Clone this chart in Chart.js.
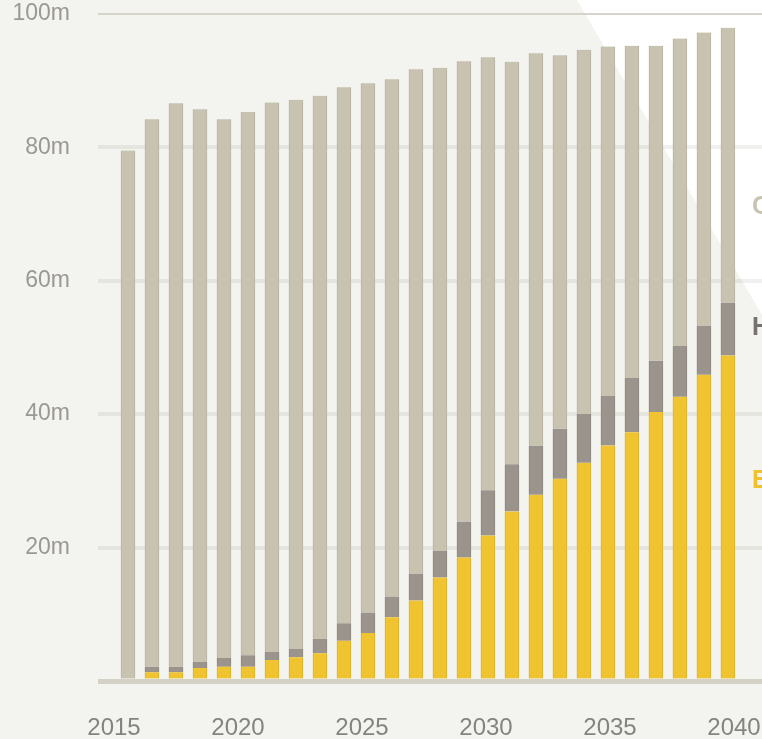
<!DOCTYPE html>
<html>
<head>
<meta charset="utf-8">
<script src="https://cdn.jsdelivr.net/npm/chart.js@4/dist/chart.umd.min.js"></script>
<style>
  html, body { margin: 0; padding: 0; background: #f3f3ef; }
  canvas { display: block; }
</style>
</head>
<body>
<canvas id="sales-chart" width="762" height="739"></canvas>
<script>
// annual vehicle sales, millions
const YEARS = [2015, 2016, 2017, 2018, 2019, 2020, 2021, 2022, 2023, 2024, 2025, 2026, 2027,
               2028, 2029, 2030, 2031, 2032, 2033, 2034, 2035, 2036, 2037, 2038, 2039, 2040];
const ELECTRIC = [0, 1.3, 1.3, 1.95, 2.15, 2.15, 3.15, 3.55, 4.15, 6.05, 7.2, 9.55, 12.05,
                  15.5, 18.5, 21.8, 25.4, 27.9, 30.3, 32.7, 35.3, 37.3, 40.3, 42.6, 45.9, 48.8];
const HYBRID = [0, 0.85, 0.85, 0.95, 1.3, 1.7, 1.2, 1.25, 2.2, 2.6, 3.05, 3.1, 4.0,
                4.0, 5.4, 6.8, 7.1, 7.4, 7.5, 7.3, 7.4, 8.1, 7.7, 7.6, 7.3, 7.9];
const CONVENTIONAL = [79.5, 82.05, 84.45, 82.8, 80.75, 81.45, 82.35, 82.3, 81.35, 80.35, 79.35, 77.55, 75.65,
                      72.4, 69.0, 64.9, 60.3, 58.8, 56.0, 54.6, 52.4, 49.8, 47.2, 46.1, 44.0, 41.2];

const SERIES_NAMES = ['Electric', 'Hybrid', 'Conventional'];
const LABEL_YEARS = [2015, 2020, 2025, 2030, 2035, 2040];
const Y_TICKS = [0, 20, 40, 60, 80, 100];

const COLORS = ['#f0c430', '#9b948d', '#c8c2b0'];
const EDGES = ['#dcb22a', '#8c867f', '#b9b3a1'];
const NAME_COLORS = ['#f0c22e', '#77726d', '#c9c3b1'];
const NAME_AT = [29.9, 52.9, 71.0]; // in millions, along the y scale

const FONT = '"Liberation Sans", Arial, sans-serif';
const CLEAR = 'rgba(0, 0, 0, 0)';

function toPoints(values) {
    return values.map((v, i) => ({x: YEARS[i], y: v}));
}

function initDatasets() {
    return [ELECTRIC, HYBRID, CONVENTIONAL].map((values, i) => ({
        label: SERIES_NAMES[i],
        data: toPoints(values),
        backgroundColor: COLORS[i],
        borderColor: EDGES[i],
        borderWidth: {left: 1, right: 1, top: 0, bottom: 0},
        borderSkipped: false,
        barThickness: 14,
        xAxisID: 'x',
        yAxisID: 'y',
    }));
}

// page backdrop with the pale wedge in the upper right corner
const backdrop = {
    id: 'backdrop',
    beforeDraw(chart) {
        const ctx = chart.ctx;
        ctx.save();
        ctx.fillStyle = '#f3f3ef';
        ctx.fillRect(0, 0, chart.width, chart.height);
        ctx.fillStyle = '#ffffff';
        ctx.beginPath();
        ctx.moveTo(577, 0);
        ctx.lineTo(chart.width, 0);
        ctx.lineTo(chart.width, 315);
        ctx.closePath();
        ctx.fill();
        ctx.restore();
    }
};

// series names running off the right edge
const seriesNames = {
    id: 'seriesNames',
    afterDraw(chart) {
        const ctx = chart.ctx;
        const y = chart.scales.y;
        ctx.save();
        ctx.font = 'bold 25px "Liberation Sans Narrow", ' + FONT;
        ctx.textAlign = 'left';
        ctx.textBaseline = 'middle';
        SERIES_NAMES.forEach((name, i) => {
            ctx.fillStyle = NAME_COLORS[i];
            ctx.fillText(name, 752, y.getPixelForValue(NAME_AT[i]));
        });
        ctx.restore();
    }
};

function gridColor(ctx) {
    const v = ctx.tick ? ctx.tick.value : null;
    if (v === 0) return '#d4d2c6';
    if (v === 100) return '#d5d3ca';
    return 'rgba(110, 105, 90, 0.1)';
}

function gridWidth(ctx) {
    const v = ctx.tick ? ctx.tick.value : null;
    if (v === 0) return 5;
    if (v === 100) return 2;
    return 4;
}

new Chart(document.getElementById('sales-chart'), {
    type: 'bar',
    data: {datasets: initDatasets()},
    plugins: [backdrop, seriesNames],
    options: {
        responsive: false,
        animation: false,
        layout: {padding: {top: 3, right: 0, bottom: 0, left: 0}},
        plugins: {
            legend: {display: false},
            tooltip: {enabled: false},
        },
        scales: {
            x: {
                type: 'linear',
                stacked: true,
                display: false,
                offset: false,
                min: 2013.75,
                max: 2041.42,
            },
            years: {
                type: 'linear',
                position: 'bottom',
                offset: false,
                min: 2014.355,
                max: 2041.13,
                // invisible tick marks push the year labels down
                grid: {
                    display: true,
                    drawOnChartArea: false,
                    drawTicks: true,
                    tickLength: 33,
                    color: CLEAR,
                    tickColor: CLEAR,
                },
                border: {display: false},
                afterBuildTicks: scale => {
                    scale.ticks = LABEL_YEARS.map(v => ({value: v}));
                },
                afterFit: scale => { scale.height = 58; },
                ticks: {
                    padding: 0,
                    maxRotation: 0,
                    autoSkip: false,
                    color: '#84837f',
                    font: {family: FONT, size: 24},
                    callback: v => String(v),
                },
            },
            y: {
                stacked: true,
                min: 0,
                max: 100,
                z: 1,
                afterBuildTicks: scale => {
                    scale.ticks = Y_TICKS.map(v => ({value: v}));
                },
                afterFit: scale => { scale.width = 98; },
                grid: {
                    color: gridColor,
                    lineWidth: gridWidth,
                    drawTicks: true,
                    tickLength: 28,
                    tickColor: CLEAR,
                },
                border: {display: false},
                ticks: {
                    padding: 0,
                    color: '#9a9892',
                    font: {family: FONT, size: 23},
                    callback: v => (v === 0 ? '' : v + 'm'),
                },
            },
        },
    },
});
</script>
</body>
</html>
